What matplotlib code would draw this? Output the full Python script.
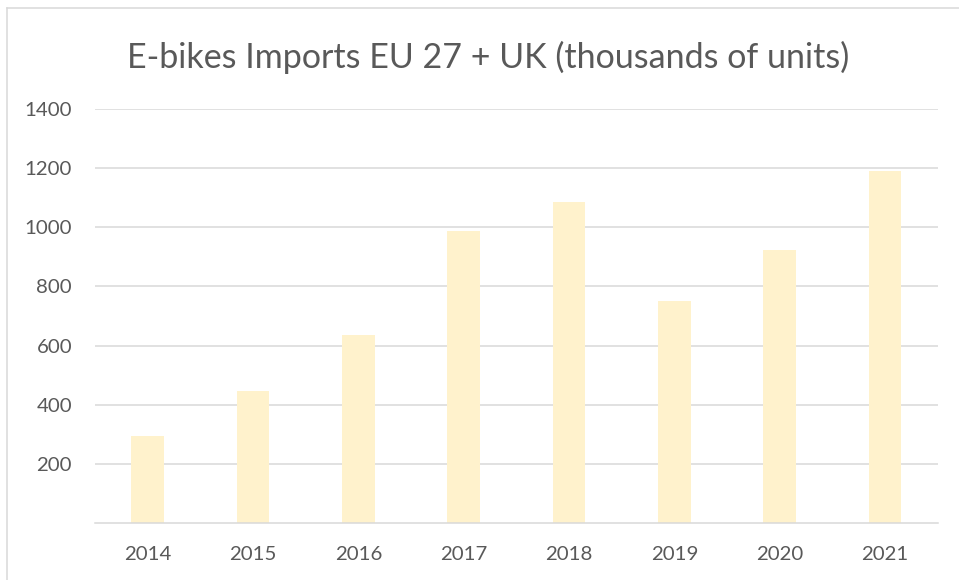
import matplotlib
matplotlib.use("Agg")
import matplotlib.pyplot as plt
from matplotlib.lines import Line2D

years = ["2014", "2015", "2016", "2017", "2018", "2019", "2020", "2021"]
imports_k = [294, 446, 636, 987, 1087, 752, 923, 1191]
y_ticks = [200, 400, 600, 800, 1000, 1200, 1400]
title = "E-bikes Imports EU 27 + UK (thousands of units)"

W, H, DPI = 959, 580, 100
FONT = "Lato"
TXT = "#595959"
GRID = "#D9D9D9"

fig = plt.figure(figsize=(W / DPI, H / DPI), dpi=DPI)
fig.patch.set_facecolor("white")

L, R, T, B = 95, 937.7, 109, 523
ax = fig.add_axes([L / W, 1 - B / H, (R - L) / W, (B - T) / H])

x = list(range(len(years)))
ax.bar(x, imports_k, width=0.31, color="#FFF2CC", zorder=3)
ax.set_xlim(-0.5, len(years) - 0.5)
ax.set_ylim(0, 1400)
ax.set_yticks(y_ticks)
ax.set_xticks(x)
ax.set_xticklabels(years)
for s in ["top", "right", "left"]:
    ax.spines[s].set_visible(False)
ax.spines["bottom"].set_color(GRID)
ax.spines["bottom"].set_linewidth(1.1)
ax.spines["bottom"].set_zorder(4)
ax.grid(axis="y", color=GRID, linewidth=1.1, zorder=0)
ax.tick_params(axis="both", length=0, colors=TXT)
ax.tick_params(axis="y", pad=23 * 72 / DPI)
ax.tick_params(axis="x", pad=23 * 72 / DPI)

# measure fonts to match target widths
fig.canvas.draw()
r = fig.canvas.get_renderer()
probe = fig.text(0, 0, "2014", fontsize=10, family=FONT)
w10 = probe.get_window_extent(r).width
probe.remove()
tick_fs = 10 * 47.5 / w10
for lab in ax.get_xticklabels() + ax.get_yticklabels():
    lab.set_fontsize(tick_fs)
    lab.set_family(FONT)
    lab.set_color(TXT)

probe = fig.text(0, 0, title, fontsize=10, family=FONT)
wt = probe.get_window_extent(r).width
probe.remove()
title_fs = 10 * 720 / wt
fig.text(488 / W, 1 - 68 / H, title, fontsize=title_fs, family=FONT,
         color=TXT, ha="center", va="baseline")

# outer chart border (left and top)
fig.add_artist(Line2D([7 / W, 7 / W], [0, 1 - 8 / H], transform=fig.transFigure,
                      color=GRID, linewidth=1.1))
fig.add_artist(Line2D([7 / W, 1], [1 - 8 / H, 1 - 8 / H], transform=fig.transFigure,
                      color=GRID, linewidth=1.1))

fig.savefig("out.png", dpi=DPI)
